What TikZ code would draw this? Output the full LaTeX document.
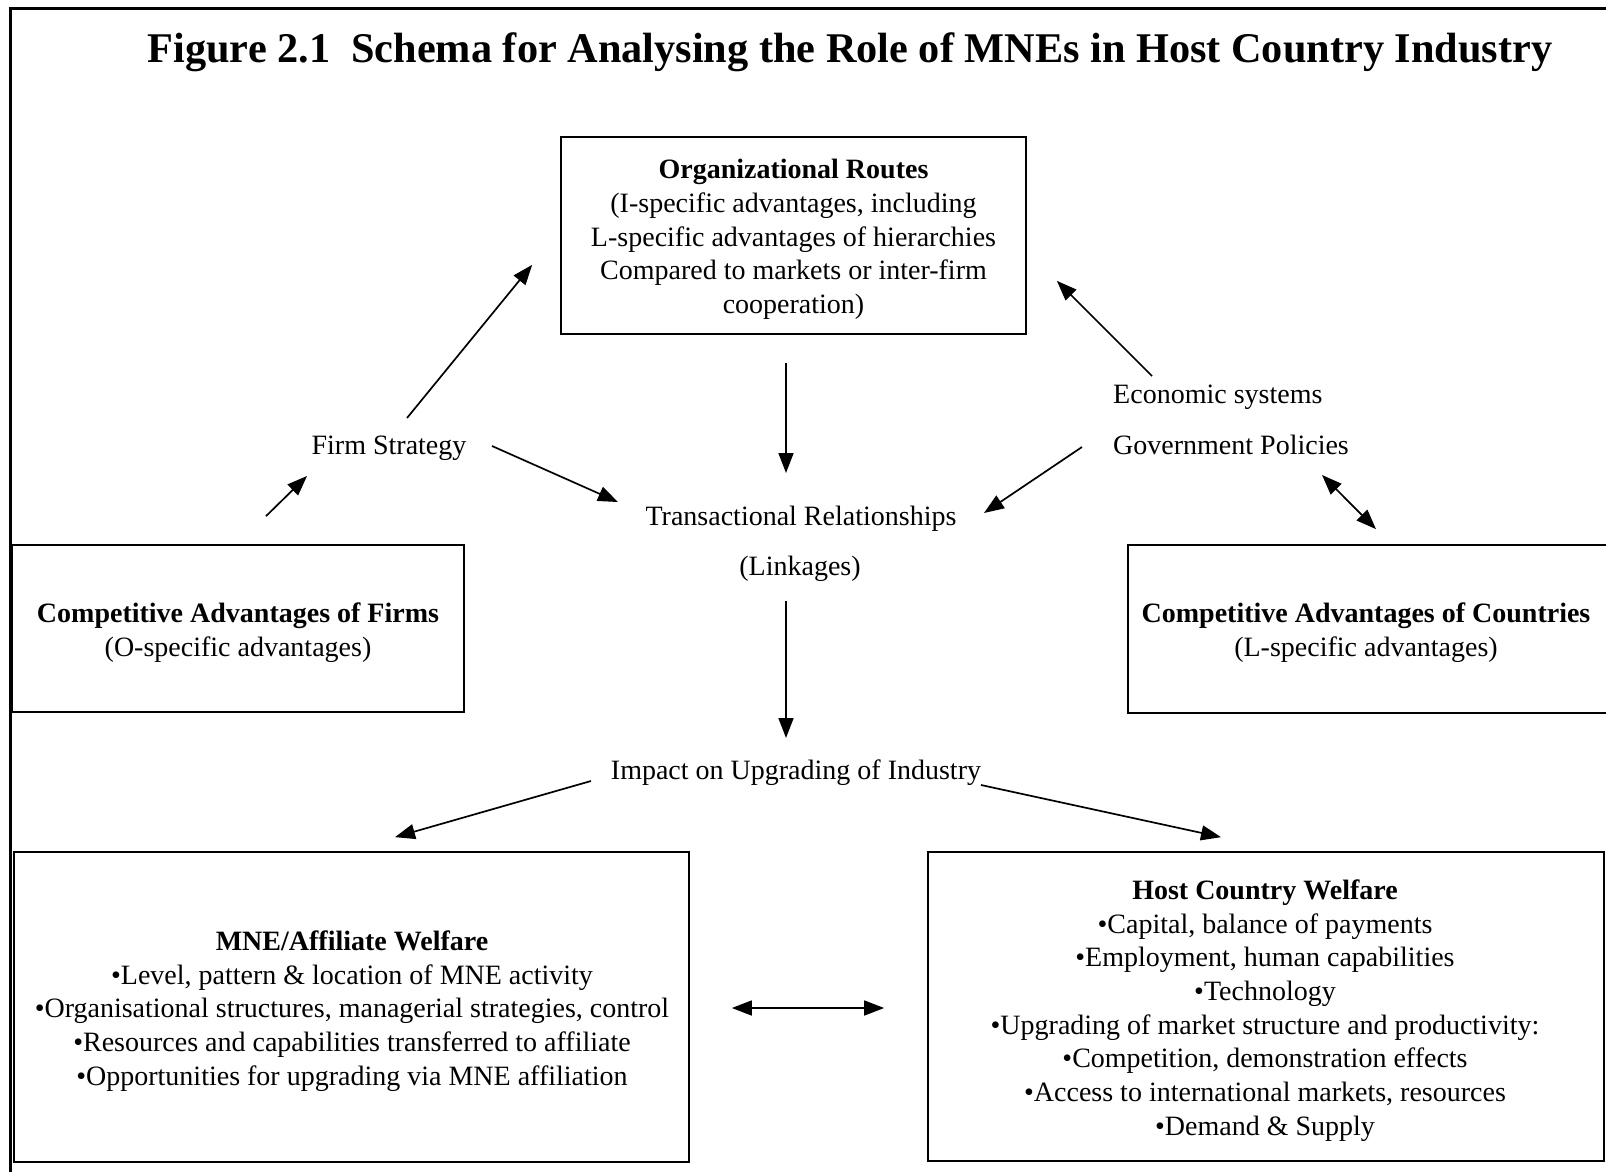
\documentclass[tikz,border=0pt]{standalone}
\usepackage{fontspec}
\setmainfont{Liberation Serif}
\usetikzlibrary{arrows.meta,calc}

\newcommand{\bodyfont}{\fontsize{28}{33.7}\selectfont}
\newcommand{\titlefont}{\fontsize{42.3}{50}\selectfont\bfseries}

\tikzset{
  frameline/.style={line width=2.6pt},
  box/.style={draw, line width=1.7pt, inner sep=0pt},
  boxtext/.style={inner sep=0pt, align=center, font=\bodyfont},
  lbl/.style={inner sep=0pt, font=\bodyfont},
  arr/.style={line width=1.7pt, -{Triangle[length=20pt,width=15pt]}},
  darr/.style={line width=1.7pt, {Triangle[length=20pt,width=15pt]}-{Triangle[length=20pt,width=15pt]}}
}

\begin{document}
\begin{tikzpicture}[x=1pt, y=-1pt]
\useasboundingbox (0,0) rectangle (1606,1172);
\clip (0,0) rectangle (1606,1172);

% outer frame (runs off the right and bottom edges)
\draw[frameline] (10.5,8.5) rectangle (1650,1210);

% title
\node[inner sep=0pt, anchor=base, font=\titlefont] (title) at (850,63)
  {Figure 2.1\ \ Schema for Analysing the Role of MNEs in Host Country Industry};

% box frames
\node[box, minimum width=465pt, minimum height=197pt] (org) at (793.5,235.5) {};
\node[box, minimum width=452pt, minimum height=167pt] (caf) at (238,628.5) {};
\node[box, minimum width=480pt, minimum height=168pt] (cac) at (1368,629) {};
\node[box, minimum width=675pt, minimum height=310pt] (mne) at (351.5,1007) {};
\node[box, minimum width=676pt, minimum height=309pt] (host) at (1266,1006.5) {};

% box contents
\node[boxtext] (orgT) at ($(org)+(0,4)$)
  {\textbf{Organizational Routes}\\(I-specific advantages, including\\L-specific advantages of hierarchies\\Compared to markets or inter-firm\\cooperation)};
\node[boxtext] (cafT) at ($(caf)+(0,4)$)
  {\textbf{Competitive Advantages of Firms}\\(O-specific advantages)};
\node[boxtext] (cacT) at ($(cac)+(-2,4)$)
  {\textbf{Competitive Advantages of Countries}\\(L-specific advantages)};
\node[boxtext] (mneT) at ($(mne)+(0.5,4)$)
  {\textbf{MNE/Affiliate Welfare}\\
   •Level, pattern \& location of MNE activity\\
   •Organisational structures, managerial strategies, control\\
   •Resources and capabilities transferred to affiliate\\
   •Opportunities for upgrading via MNE affiliation};
\node[boxtext] (hostT) at ($(host)+(-1,4)$)
  {\textbf{Host Country Welfare}\\
   •Capital, balance of payments\\
   •Employment, human capabilities\\
   •Technology\\
   •Upgrading of market structure and productivity:\\
   •Competition, demonstration effects\\
   •Access to international markets, resources\\
   •Demand \& Supply};

% free labels
\node[lbl] (fs) at (389,448.5) {Firm Strategy};
\node[lbl, anchor=west] (econ) at (1113,397.5) {Economic systems};
\node[lbl, anchor=west] (gov) at (1113,445) {Government Policies};
\node[lbl] (trans) at (801,518.5) {Transactional Relationships};
\node[lbl] (link) at (800,568.5) {(Linkages)};
\node[lbl] (impact) at (796,772.5) {Impact on Upgrading of Industry};

% connectors
\draw[arr] ($(fs)+(18,-30.5)$) -- ($(org.south west)+(-28,-70)$);
\draw[arr] ($(caf.north)+(28,-28)$) -- ($(fs)+(-82,27.5)$);
\draw[arr] ($(fs)+(103,-2.5)$) -- ($(trans)+(-183,-16.5)$);
\draw[arr] ($(org.south)+(-7.5,28)$) -- ($(trans)+(-15,-45.5)$);
\draw[arr] ($(econ.west)+(39,-21.5)$) -- ($(org.south east)+(30,-54)$);
\draw[arr] ($(gov.west)+(-31,2)$) -- ($(trans)+(183,-5.5)$);
\draw[darr] ($(gov.west)+(209,30)$) -- ($(cac.north)+(8,-15)$);
\draw[arr] ($(link)+(-14,32.5)$) -- ($(impact)+(-10,-34.5)$);
\draw[arr] ($(impact)+(-205,8.5)$) -- ($(mne.north)+(43.5,-14)$);
\draw[arr] ($(impact)+(185,12.5)$) -- ($(host.north)+(-45,-14)$);
\draw[darr] ($(mne.east)+(42,1)$) -- ($(host.west)+(-43,1.5)$);
\end{tikzpicture}
\end{document}
